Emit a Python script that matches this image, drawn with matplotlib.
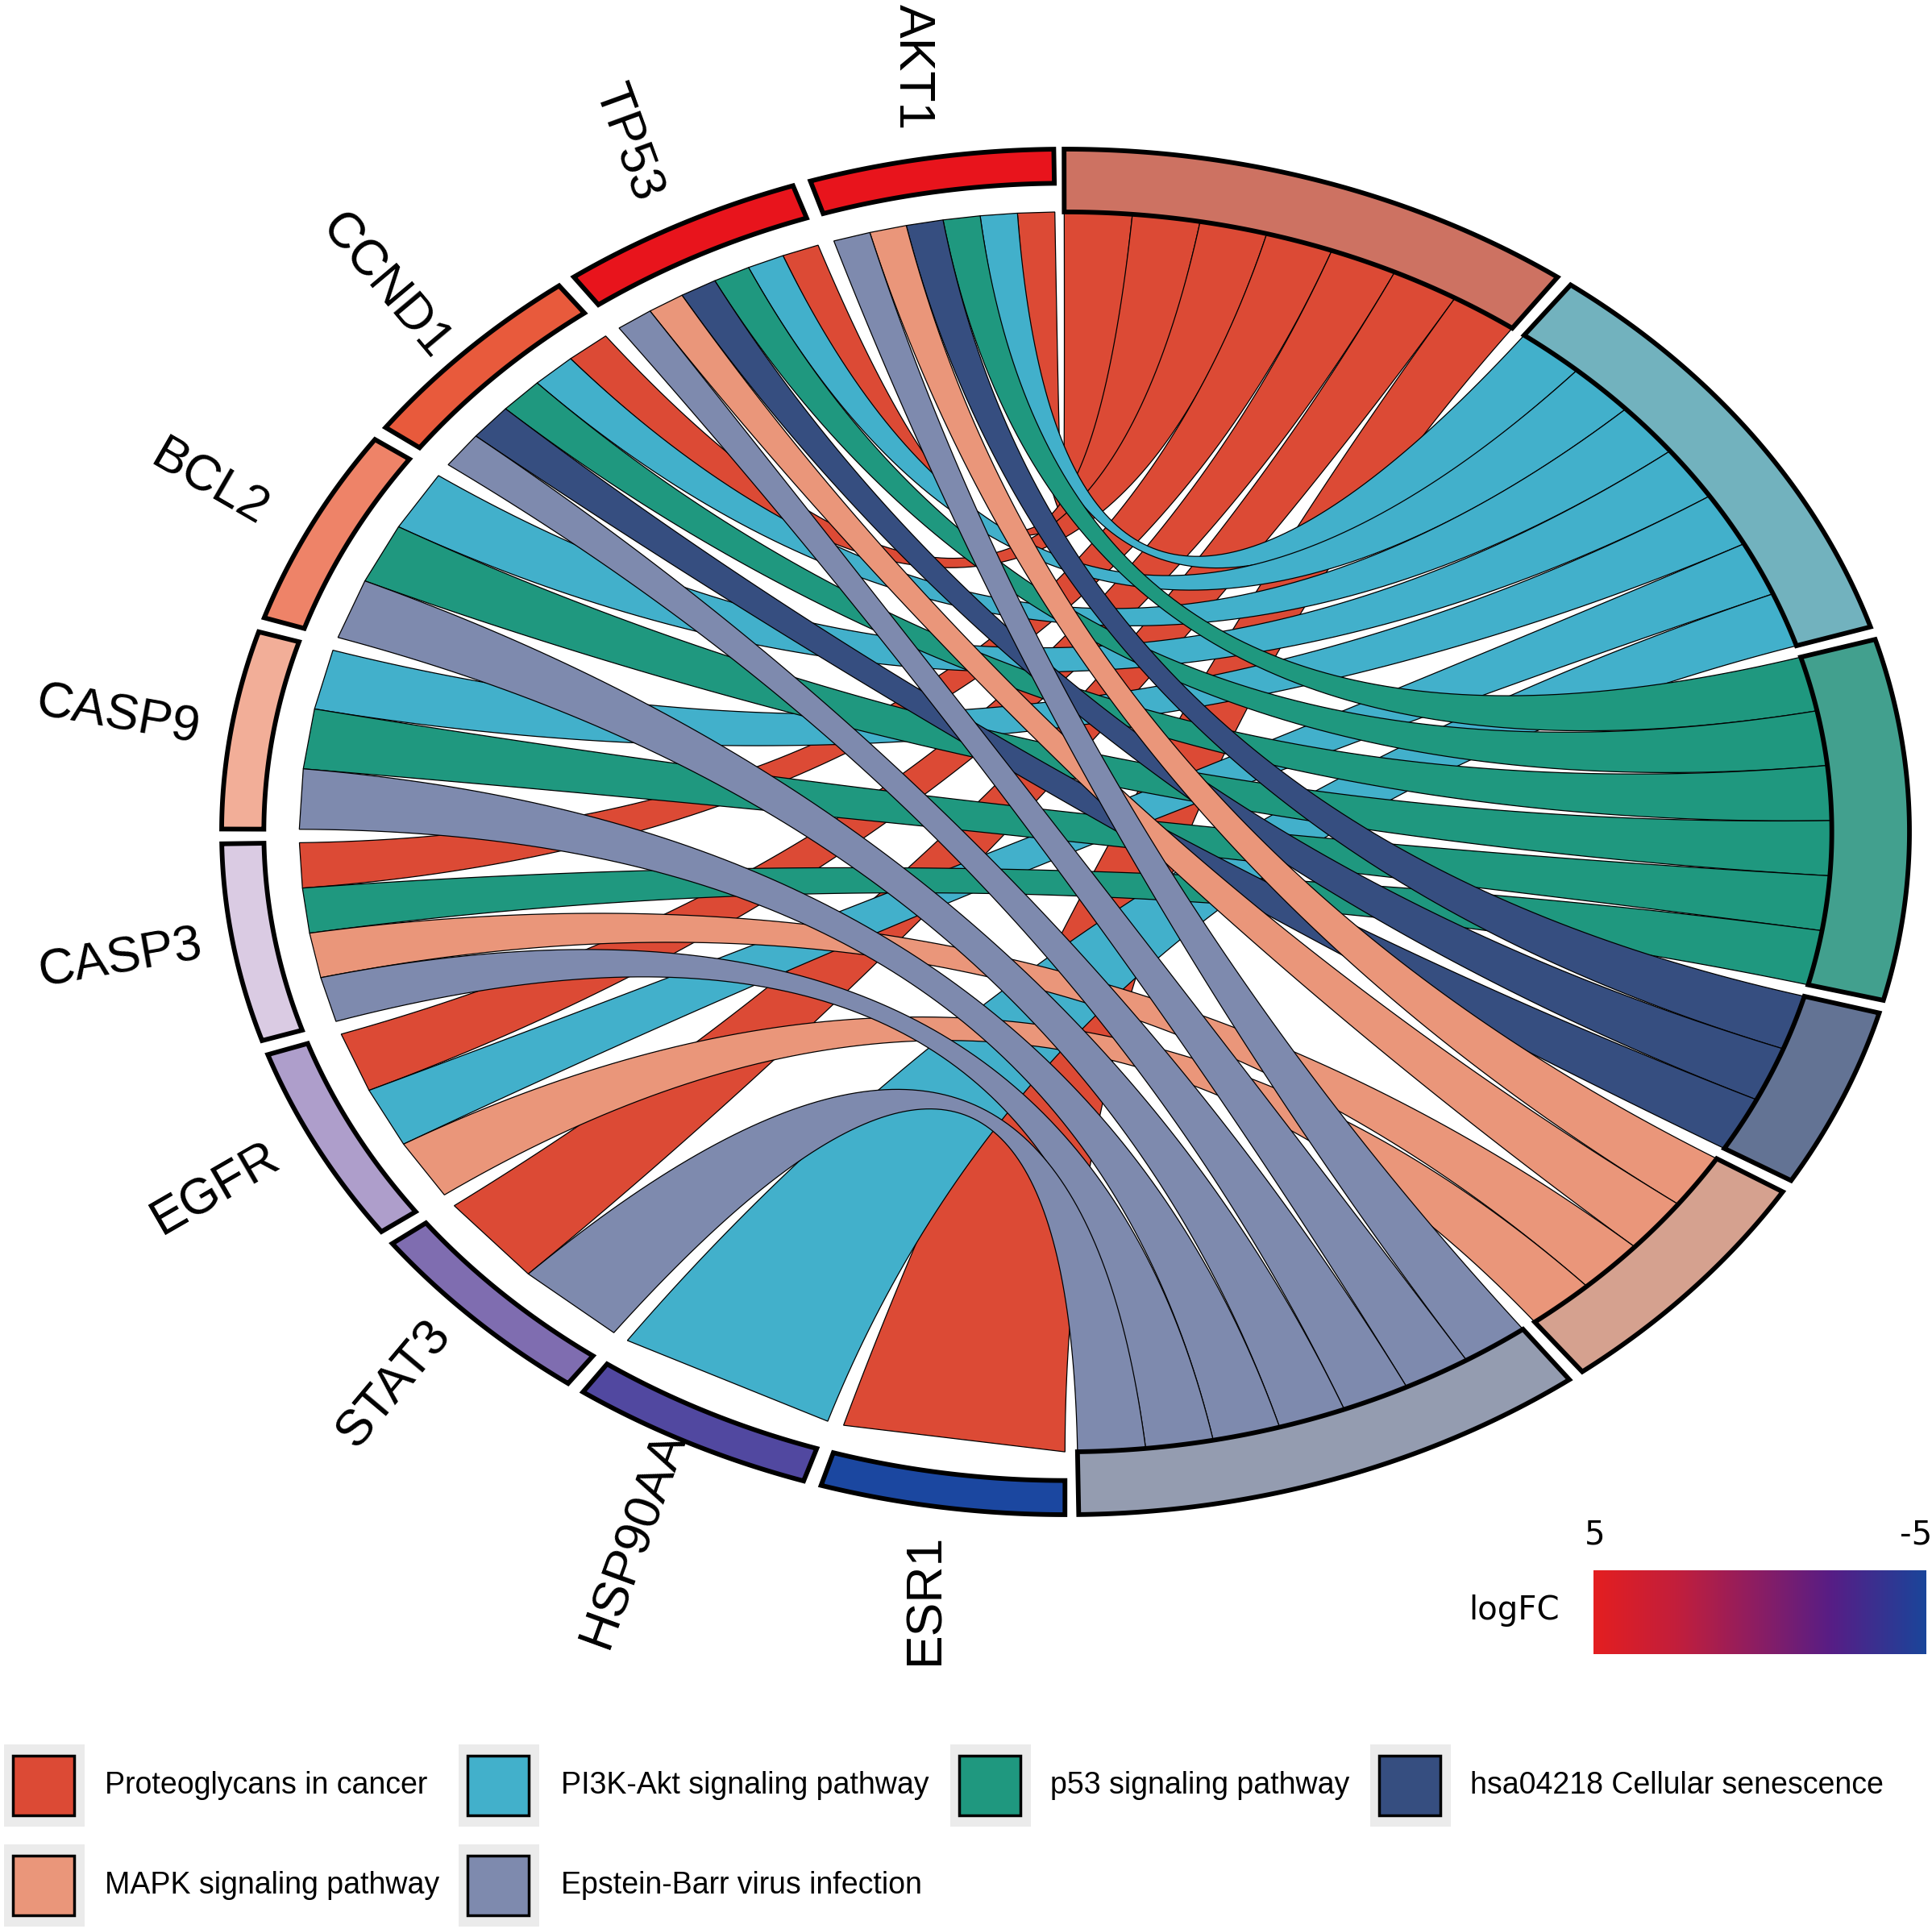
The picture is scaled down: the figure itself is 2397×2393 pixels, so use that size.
import numpy as np
import matplotlib
matplotlib.use("Agg")
import matplotlib.pyplot as plt
from matplotlib.patches import Polygon, Rectangle
from matplotlib.colors import LinearSegmentedColormap

# genes (left half, counter-clockwise from the top) and pathways (right half)
genes = ['AKT1', 'TP53', 'CCND1', 'BCL2', 'CASP9', 'CASP3', 'EGFR', 'STAT3', 'HSP90AA1', 'ESR1']
pathways = ['Proteoglycans in cancer', 'PI3K-Akt signaling pathway', 'p53 signaling pathway',
            'hsa04218 Cellular senescence', 'MAPK signaling pathway', 'Epstein-Barr virus infection']

# gene x pathway membership
membership = np.array([
    [1, 1, 1, 1, 1, 1],   # AKT1
    [1, 1, 1, 1, 1, 1],   # TP53
    [1, 1, 1, 1, 0, 1],   # CCND1
    [0, 1, 1, 0, 0, 1],   # BCL2
    [0, 1, 1, 0, 0, 1],   # CASP9
    [1, 0, 1, 0, 1, 1],   # CASP3
    [1, 1, 0, 0, 1, 0],   # EGFR
    [1, 0, 0, 0, 0, 1],   # STAT3
    [0, 1, 0, 0, 0, 0],   # HSP90AA1
    [1, 0, 0, 0, 0, 0],   # ESR1
])

lfc_ticks = ['5', '-5']

# colours
ribbon_colors = ['#DC4A35', '#42B0CB', '#1F987F', '#364E80', '#EA967A', '#7E8AAE']
segment_colors = ['#CD7262', '#72B2BE', '#42A08E', '#637394', '#D5A18F', '#949CB0']
gene_colors = ['#E8141C', '#E8141C', '#E85A3C', '#EE8368', '#F2AE98',
               '#DACBE3', '#AE9ECB', '#7F6DB0', '#5148A0', '#1B47A0']
lfc_cmap = LinearSegmentedColormap.from_list(
    'lfc', [(0, '#E41E20'), (0.25, '#C21F3C'), (0.5, '#8A1D64'), (0.72, '#561E86'), (1, '#1A459A')])

# geometry (unit circle, stretched into an ellipse by the axes limits)
W, H = 2397, 2393
CX, CY, RX, RY = 1322, 1032, 1047, 847
R_OUT, R_GENE_IN, R_IN = 1.0, 0.95, 0.908
GENE_START, GENE_STEP, GENE_SPAN = 90.8, 18.04, 16.8
PATH_START, PATH_UNIT, PATH_GAP = 90.1, 5.109, 1.1


def pt(a, r):
    a = np.radians(a)
    return np.array([r * np.cos(a), r * np.sin(a)])


def arc(a0, a1, r, n=80):
    a = np.radians(np.linspace(a0, a1, n))
    return np.column_stack([r * np.cos(a), r * np.sin(a)])


def bezier(p0, p2, n=101):
    t = np.linspace(0, 1, n)[:, None]
    return (1 - t) ** 2 * p0 + t ** 2 * p2


def segment(a0, a1, r0, r1):
    return np.vstack([arc(a0, a1, r1), arc(a1, a0, r0)])


fig = plt.figure(figsize=(W / 100, H / 100), dpi=100)
ax = fig.add_axes([0, 0, 1, 1])
ax.set_xlim(-CX / RX, (W - CX) / RX)
ax.set_ylim((CY - H) / RY, CY / RY)
ax.axis('off')

n_genes, n_path = membership.shape

# gene arcs
gene_arcs = []
for i in range(n_genes):
    a0 = GENE_START + i * GENE_STEP
    gene_arcs.append((a0, a0 + GENE_SPAN))

# pathway arcs (clockwise from the top)
path_arcs = []
b = PATH_START
for j in range(n_path):
    span = membership[:, j].sum() * PATH_UNIT
    path_arcs.append((b, b - span))
    b = b - span - PATH_GAP

# ribbons
for j in range(n_path):
    members = np.where(membership[:, j] == 1)[0]
    b_hi, b_lo = path_arcs[j]
    u = (b_hi - b_lo) / len(members)
    for k, i in enumerate(members):
        cols = list(np.where(membership[i] == 1)[0])
        a0, a1 = gene_arcs[i]
        w = (a1 - a0) / len(cols)
        pos = cols.index(j)
        ga_lo, ga_hi = a0 + pos * w, a0 + (pos + 1) * w
        pb_hi, pb_lo = b_hi - k * u, b_hi - (k + 1) * u
        c1 = bezier(pt(ga_hi, R_IN), pt(pb_lo, R_IN))
        c2 = bezier(pt(ga_lo, R_IN), pt(pb_hi, R_IN))
        ax.add_patch(Polygon(np.vstack([c1, c2[::-1]]), closed=True, facecolor=ribbon_colors[j],
                             edgecolor='black', linewidth=0.9, zorder=2))

# gene segments and labels
label_rot = np.linspace(-90, 90, n_genes)
for i, g in enumerate(genes):
    a0, a1 = gene_arcs[i]
    ax.add_patch(Polygon(segment(a0, a1, R_GENE_IN, R_OUT), closed=True, facecolor=gene_colors[i],
                         edgecolor='black', linewidth=4.2, joinstyle='miter', zorder=4))
    mid = (a0 + a1) / 2
    x, y = pt(mid, 1.135)
    ax.text(x, y, g, rotation=label_rot[i], ha='center', va='center', rotation_mode='anchor',
            fontsize=45, family='Liberation Sans', zorder=1.5)

# pathway segments
for j in range(n_path):
    b_hi, b_lo = path_arcs[j]
    ax.add_patch(Polygon(segment(b_lo, b_hi, R_IN, R_OUT), closed=True, facecolor=segment_colors[j],
                         edgecolor='black', linewidth=4.2, joinstyle='miter', zorder=4))

# legend and colour bar in pixel coordinates
lg = fig.add_axes([0, 0, 1, 1])
lg.set_xlim(0, W)
lg.set_ylim(H, 0)
lg.axis('off')

key_x = [5, 569, 1179, 1700, 5, 569]
text_x = [130, 696, 1303, 1824, 130, 696]
row_y = [2215, 2215, 2215, 2215, 2339, 2339]
for j, name in enumerate(pathways):
    lg.add_patch(Rectangle((key_x[j], row_y[j] - 51), 100, 102, facecolor='#EBEBEB', edgecolor='none'))
    lg.add_patch(Rectangle((key_x[j] + 11, row_y[j] - 37), 76, 74, facecolor=ribbon_colors[j],
                           edgecolor='black', linewidth=2.5))
    lg.text(text_x[j], row_y[j], name, ha='left', va='center', fontsize=27, family='Liberation Sans')

grad = np.linspace(0, 1, 256)[None, :]
lg.imshow(grad, cmap=lfc_cmap, extent=[1977, 2390, 2052, 1948], aspect='auto', interpolation='bilinear')
lg.set_xlim(0, W)
lg.set_ylim(H, 0)
lg.text(1979, 1905, lfc_ticks[0], ha='center', va='center', fontsize=29, family='DejaVu Sans')
lg.text(2397, 1905, lfc_ticks[1], ha='right', va='center', fontsize=29, family='DejaVu Sans')
lg.text(1879, 1998, 'logFC', ha='center', va='center', fontsize=29, family='DejaVu Sans')

fig.savefig('out.png', dpi=100)
